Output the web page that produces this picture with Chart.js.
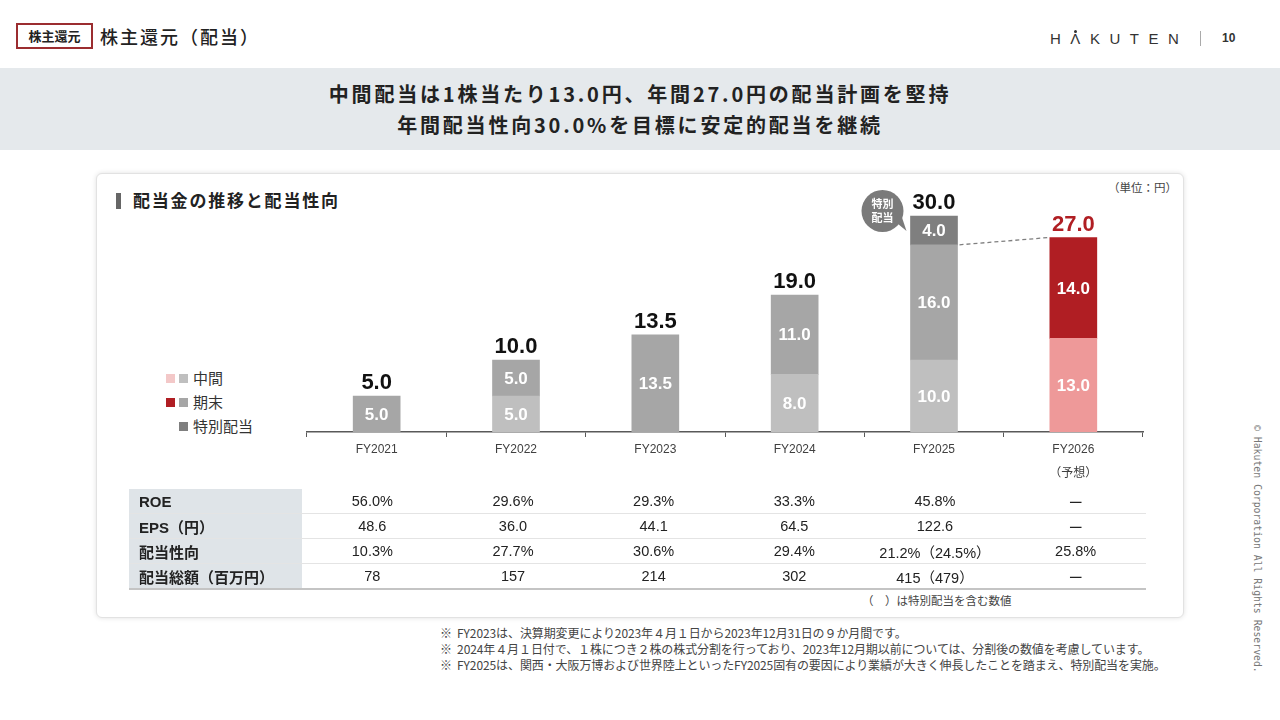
<!DOCTYPE html>
<html lang="ja">
<head>
<meta charset="utf-8">
<script src="https://cdn.jsdelivr.net/npm/chart.js@4/dist/chart.umd.min.js"></script>
<style>
body{margin:0;width:1280px;height:720px;position:relative;background:#fff;overflow:hidden;
  font-family:"Liberation Sans","Noto Sans CJK JP",sans-serif;color:#222}
.abs{position:absolute}
#tag{left:16px;top:23px;width:73px;height:22px;border:2px solid #9b2d30;font:bold 13px "Noto Sans CJK JP";line-height:22px;text-align:center}
#title{left:100px;top:23px;font:500 18px "Noto Sans CJK JP";letter-spacing:2px;line-height:26px}
#logo{left:1050px;top:30px;font:15px "Liberation Sans";letter-spacing:9.5px;color:#333}
#logo s{text-decoration:none;position:relative}
#logo s:before{content:"";position:absolute;left:4px;top:0px;width:3px;height:3px;border-radius:50%;background:#333}
#sep{left:1200px;top:31px;width:1px;height:15px;background:#aaa}
#page{left:1222px;top:31px;font:bold 12px "Liberation Sans";color:#333}
#banner{left:0;top:68px;width:1280px;height:82px;background:#e5e9ec;text-align:center;
  font:bold 20px "Noto Sans CJK JP";letter-spacing:2.8px;color:#222;line-height:31px;padding-top:10px;box-sizing:border-box}
#card{left:96px;top:173px;width:1088px;height:445px;border:1px solid #e2e2e2;border-radius:6px;
  box-shadow:0 0 5px rgba(0,0,0,0.12);box-sizing:border-box;background:#fff}
#sub{left:116px;top:189px;font:bold 17px "Noto Sans CJK JP";letter-spacing:1.8px;line-height:22px}
#sub span{display:inline-block;width:5px;height:16px;background:#666;vertical-align:-2px;margin-right:12px}
#unit{left:1108px;top:179px;font:11.5px "Noto Sans CJK JP";color:#444}
#legend{left:166px;top:366px;font:15px "Noto Sans CJK JP";color:#333}
#legend div{height:24px;line-height:18px;display:flex;align-items:center}
#legend i{display:inline-block;width:9px;height:9px;margin-right:4px}
#legend b{font-weight:normal;margin-left:1px}
#wrap{left:300px;top:160px;width:850px;height:340px}
#tbl{left:129px;top:489px;width:1017px;border-collapse:collapse;table-layout:fixed;font-size:14.5px;color:#222}
#tbl td{height:24px;padding:0;text-align:center;border-bottom:1px solid #e4e4e4;white-space:nowrap}
#tbl tr:first-child td{border-top:2px solid #c4c4c4}
#tbl tr:last-child td{border-bottom:2px solid #c4c4c4}
#tbl td.h{background:#dfe4e8;text-align:left;padding-left:10px;font-weight:bold;font-size:15px;font-family:"Liberation Sans","Noto Sans CJK JP"}
#note{left:862px;top:592px;font:11.5px "Noto Sans CJK JP";color:#444}
#foot{left:440px;top:625px;font:12px "Noto Sans CJK JP";color:#444;line-height:16px;letter-spacing:-0.1px;white-space:nowrap}
#copy{left:1257px;top:425px;transform-origin:0 0;transform:translate(6px,0) rotate(90deg);
  font:9.8px "DejaVu Sans Mono";color:#777;white-space:nowrap}
</style>
</head>
<body>
<div id="tag" class="abs">株主還元</div>
<div id="title" class="abs">株主還元（配当）</div>
<div id="logo" class="abs">H<s>Λ</s>KUTEN</div>
<div id="sep" class="abs"></div>
<div id="page" class="abs">10</div>
<div id="banner" class="abs">中間配当は1株当たり13.0円、年間27.0円の配当計画を堅持<br>年間配当性向30.0%を目標に安定的配当を継続</div>
<div id="card" class="abs"></div>
<div id="sub" class="abs"><span></span>配当金の推移と配当性向</div>
<div id="unit" class="abs">（単位：円）</div>
<div id="legend" class="abs">
  <div><i style="background:#f3c8c8"></i><i style="background:#bfbfbf"></i><b>中間</b></div>
  <div><i style="background:#b01e23"></i><i style="background:#a6a6a6"></i><b>期末</b></div>
  <div><i style="background:transparent"></i><i style="background:#7f7f7f"></i><b>特別配当</b></div>
</div>
<div id="wrap" class="abs"><canvas id="chart"></canvas></div>
<table id="tbl" class="abs"><colgroup><col style="width:173px"><col><col><col><col><col><col></colgroup></table>
<div id="note" class="abs">（　）は特別配当を含む数値</div>
<div id="foot" class="abs">※&nbsp; FY2023は、決算期変更により2023年４月１日から2023年12月31日の９か月間です。<br>※&nbsp; 2024年４月１日付で、１株につき２株の株式分割を行っており、2023年12月期以前については、分割後の数値を考慮しています。<br>※&nbsp; FY2025は、関西・大阪万博および世界陸上といったFY2025固有の要因により業績が大きく伸長したことを踏まえ、特別配当を実施。</div>
<div id="copy" class="abs">© Hakuten Corporation All Rights Reserved.</div>

<script>
const years = ["FY2021", "FY2022", "FY2023", "FY2024", "FY2025", ["FY2026", "（予想）"]];
const interim = [null, 5.0, null, 8.0, 10.0, 13.0];
const yearEnd = [5.0, 5.0, 13.5, 11.0, 16.0, 14.0];
const special = [null, null, null, null, 4.0, null];

const rowNames = ["ROE", "EPS（円）", "配当性向", "配当総額（百万円）"];
const roe = ["56.0%", "29.6%", "29.3%", "33.3%", "45.8%", "ー"];
const eps = ["48.6", "36.0", "44.1", "64.5", "122.6", "ー"];
const payout = ["10.3%", "27.7%", "30.6%", "29.4%", "21.2%（24.5%）", "25.8%"];
const totalPaid = ["78", "157", "214", "302", "415（479）", "ー"];

// table
const tbl = document.getElementById("tbl");
[roe, eps, payout, totalPaid].forEach(function (row, r) {
  const tr = document.createElement("tr");
  tr.innerHTML = '<td class="h">' + rowNames[r] + '</td>' + row.map(v => '<td>' + v + '</td>').join('');
  tbl.appendChild(tr);
});

Chart.defaults.font.family = '"Liberation Sans", "Noto Sans CJK JP", sans-serif';

const interimColors = ['#bfbfbf', '#bfbfbf', '#bfbfbf', '#bfbfbf', '#bfbfbf', '#ee9999'];
const yearEndColors = ['#a6a6a6', '#a6a6a6', '#a6a6a6', '#a6a6a6', '#a6a6a6', '#b01e23'];

const labelPlugin = {
  id: 'barLabels',
  afterDatasetsDraw(chart) {
    const ctx = chart.ctx;
    const y = chart.scales.y;
    ctx.save();
    ctx.textAlign = 'center';
    // values inside the segments
    chart.data.datasets.forEach(function (ds, di) {
      chart.getDatasetMeta(di).data.forEach(function (bar, i) {
        const v = ds.data[i];
        if (!v) return;
        ctx.font = 'bold 17px "Liberation Sans"';
        ctx.fillStyle = '#fff';
        ctx.textBaseline = 'middle';
        ctx.fillText(v.toFixed(1), bar.x, (bar.y + bar.base) / 2 + 1);
      });
    });
    // totals on top
    const bars = chart.getDatasetMeta(1).data;
    years.forEach(function (yr, i) {
      const total = (interim[i] || 0) + (yearEnd[i] || 0) + (special[i] || 0);
      ctx.font = 'bold 22px "Liberation Sans"';
      ctx.fillStyle = i === 5 ? '#b01e23' : '#111';
      ctx.textBaseline = 'alphabetic';
      ctx.fillText(total.toFixed(1), bars[i].x, y.getPixelForValue(total) - 7);
    });
    // dashed link FY2025 regular -> FY2026 total
    const b5 = bars[4], b6 = bars[5];
    const regular25 = interim[4] + yearEnd[4];
    const total26 = interim[5] + yearEnd[5];
    ctx.strokeStyle = '#7f7f7f';
    ctx.lineWidth = 1.3;
    ctx.setLineDash([4, 3]);
    ctx.beginPath();
    ctx.moveTo(b5.x + b5.width / 2 + 2, y.getPixelForValue(regular25));
    ctx.lineTo(b6.x - b6.width / 2 - 2, y.getPixelForValue(total26));
    ctx.stroke();
    ctx.setLineDash([]);
    // "特別配当" callout
    const top25 = y.getPixelForValue(regular25 + special[4]);
    const cx = b5.x - b5.width / 2 - 28, cy = top25 - 5;
    ctx.fillStyle = '#7a7a7a';
    ctx.beginPath();
    ctx.arc(cx, cy, 21, 0, Math.PI * 2);
    ctx.fill();
    ctx.beginPath();
    ctx.moveTo(cx + 12, cy + 10);
    ctx.lineTo(b5.x - b5.width / 2 - 4, top25 + 15);
    ctx.lineTo(cx + 18, cy + 2);
    ctx.closePath();
    ctx.fill();
    ctx.fillStyle = '#fff';
    ctx.font = 'bold 11px "Noto Sans CJK JP"';
    ctx.textBaseline = 'middle';
    ctx.fillText('特別', cx, cy - 7);
    ctx.fillText('配当', cx, cy + 7);
    ctx.restore();
  }
};

new Chart(document.getElementById("chart").getContext("2d"), {
  type: 'bar',
  data: {
    labels: years,
    datasets: [
      { label: '中間', data: interim, backgroundColor: interimColors },
      { label: '期末', data: yearEnd, backgroundColor: yearEndColors },
      { label: '特別配当', data: special, backgroundColor: '#7f7f7f' }
    ]
  },
  options: {
    responsive: true,
    maintainAspectRatio: false,
    animation: false,
    layout: { padding: { left: 7, right: 7, top: 12.8, bottom: 20 } },
    datasets: { bar: { barThickness: 47 } },
    plugins: { legend: { display: false }, tooltip: { enabled: false } },
    scales: {
      x: {
        stacked: true,
        grid: { offset: true, drawOnChartArea: false, drawTicks: true, tickLength: 5, color: '#595959' },
        border: { color: '#595959', width: 1.5 },
        ticks: { color: '#404040', font: { size: 12, lineHeight: 2 }, padding: 1 },
        afterFit: function (s) { s.height = 48; }
      },
      y: { stacked: true, display: false, min: 0, max: 36 }
    }
  },
  plugins: [labelPlugin]
});
</script>
</body>
</html>
